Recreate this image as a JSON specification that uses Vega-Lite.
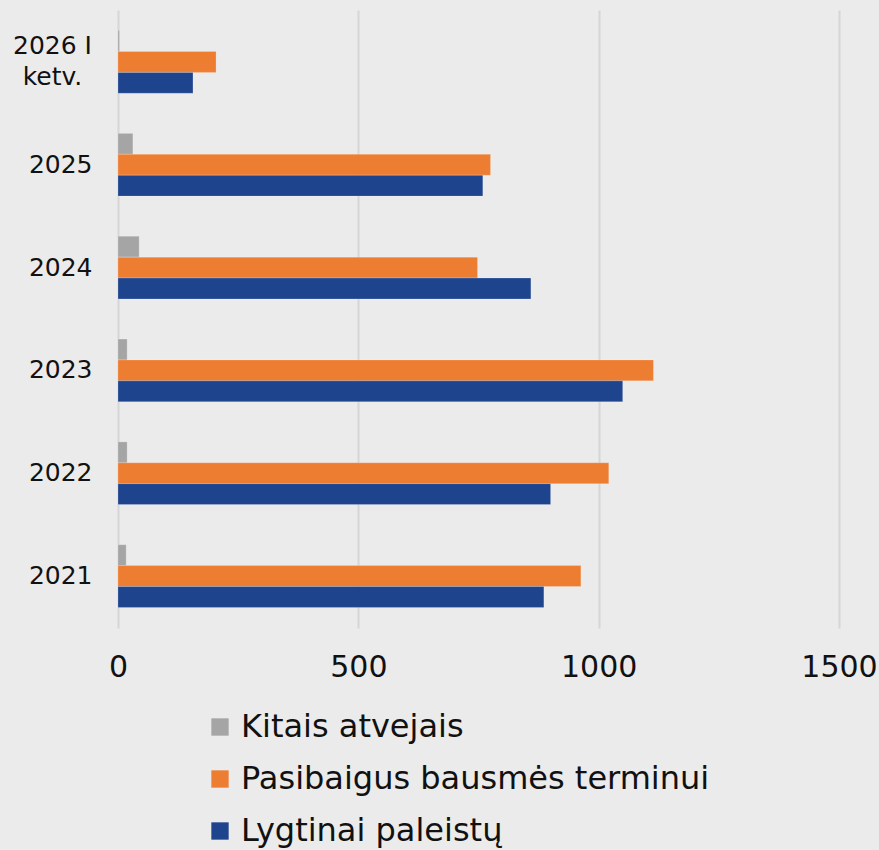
{
  "$schema": "https://vega.github.io/schema/vega-lite/v6.json",
  "autosize": "none",
  "width": 721,
  "height": 618,
  "padding": {"left": 118, "top": 10, "right": 40, "bottom": 222},
  "background": "#ebebeb",
  "config": {"view": {"stroke": null}, "font": "DejaVu Sans"},
  "data": {
    "values": [
      {"year": "2026 I ketv.", "series": "Kitais atvejais", "value": 3},
      {"year": "2026 I ketv.", "series": "Pasibaigus bausmės terminui", "value": 204},
      {"year": "2026 I ketv.", "series": "Lygtinai paleistų", "value": 156},
      {"year": "2025", "series": "Kitais atvejais", "value": 31},
      {"year": "2025", "series": "Pasibaigus bausmės terminui", "value": 775},
      {"year": "2025", "series": "Lygtinai paleistų", "value": 759},
      {"year": "2024", "series": "Kitais atvejais", "value": 44},
      {"year": "2024", "series": "Pasibaigus bausmės terminui", "value": 748},
      {"year": "2024", "series": "Lygtinai paleistų", "value": 859},
      {"year": "2023", "series": "Kitais atvejais", "value": 19},
      {"year": "2023", "series": "Pasibaigus bausmės terminui", "value": 1114},
      {"year": "2023", "series": "Lygtinai paleistų", "value": 1050},
      {"year": "2022", "series": "Kitais atvejais", "value": 19},
      {"year": "2022", "series": "Pasibaigus bausmės terminui", "value": 1021},
      {"year": "2022", "series": "Lygtinai paleistų", "value": 900},
      {"year": "2021", "series": "Kitais atvejais", "value": 17},
      {"year": "2021", "series": "Pasibaigus bausmės terminui", "value": 963},
      {"year": "2021", "series": "Lygtinai paleistų", "value": 886}
    ]
  },
  "mark": {"type": "bar", "stroke": "#ffffff", "strokeOpacity": 0.4, "strokeWidth": 0.5},
  "encoding": {
    "y": {
      "field": "year",
      "type": "nominal",
      "sort": ["2026 I ketv.", "2025", "2024", "2023", "2022", "2021"],
      "scale": {"paddingInner": 0.39, "paddingOuter": 0.2},
      "axis": {
        "title": null,
        "domain": false,
        "ticks": false,
        "labelFontSize": 25,
        "labelColor": "#111111",
        "labelPadding": {"condition": {"test": "datum.value == '2026 I ketv.'", "value": 66}, "value": 26},
        "labelAlign": {"condition": {"test": "datum.value == '2026 I ketv.'", "value": "center"}, "value": "right"},
        "labelExpr": "datum.value == '2026 I ketv.' ? ['2026 I', 'ketv.'] : datum.value",
        "labelLineHeight": 31,
        "labelOffset": {"condition": {"test": "datum.value == '2026 I ketv.'", "value": -16}, "value": 0}
      }
    },
    "yOffset": {
      "field": "series",
      "type": "nominal",
      "sort": ["Kitais atvejais", "Pasibaigus bausmės terminui", "Lygtinai paleistų"]
    },
    "x": {
      "field": "value",
      "type": "quantitative",
      "scale": {"domain": [0, 1500], "nice": false},
      "axis": {
        "title": null,
        "values": [0, 500, 1000, 1500],
        "format": "d",
        "domain": false,
        "ticks": false,
        "grid": true,
        "gridColor": "#d6d6d6",
        "gridWidth": 2,
        "labelFontSize": 30,
        "labelColor": "#111111",
        "labelPadding": 24,
        "labelFlush": false
      }
    },
    "color": {
      "field": "series",
      "type": "nominal",
      "sort": ["Kitais atvejais", "Pasibaigus bausmės terminui", "Lygtinai paleistų"],
      "scale": {
        "domain": ["Kitais atvejais", "Pasibaigus bausmės terminui", "Lygtinai paleistų"],
        "range": ["#a5a5a5", "#ed7d31", "#1f448e"]
      },
      "legend": {
        "title": null,
        "orient": "none",
        "legendX": 86,
        "legendY": 701,
        "direction": "vertical",
        "symbolType": "square",
        "symbolSize": 300,
        "symbolStrokeWidth": 0,
        "labelFontSize": 32,
        "labelColor": "#111111",
        "labelLimit": 700,
        "rowPadding": 20,
        "labelOffset": 5
      }
    }
  }
}
